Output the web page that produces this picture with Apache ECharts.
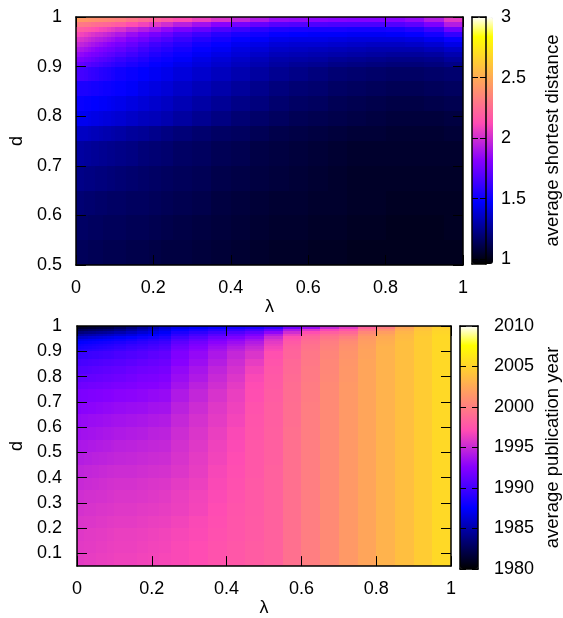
<!DOCTYPE html>
<html><head><meta charset="utf-8">
<script src="https://cdn.jsdelivr.net/npm/echarts@6/dist/echarts.min.js"></script>
<style>html,body{margin:0;padding:0;background:#fff}#c{width:563px;height:618px}</style>
</head><body><div id="c"></div>
<script>
// ---- data ----
const lambdaEdges = [0,0.01,0.02,0.03,0.04,0.05,0.06,0.07,0.08,0.09,0.1,0.13,0.16,0.19,0.22,0.25,0.3,0.35,0.4,0.45,0.5,0.55,0.6,0.65,0.7,0.75,0.8,0.85,0.9,0.95,1];
const dEdgesTop = [0.5,0.55,0.6,0.65,0.7,0.75,0.78,0.81,0.84,0.87,0.9,0.91,0.92,0.93,0.94,0.95,0.96,0.97,0.98,0.99,1];
const dEdgesBottom = [0.05,0.1,0.15,0.2,0.25,0.3,0.35,0.4,0.45,0.5,0.55,0.6,0.65,0.7,0.75,0.78,0.81,0.84,0.87,0.9,0.91,0.92,0.93,0.94,0.95,0.96,0.97,0.98,0.99,1];
const dTicksBottom = [0.1,0.2,0.3,0.4,0.5,0.6,0.7,0.8,0.9,1];
const distTicks = [1,1.5,2,2.5,3];
const yearTicks = [1980,1985,1990,1995,2000,2005,2010];

// average shortest distance, rows from d=0.5 upward, columns along lambdaEdges
const distance = [
[1.14,1.14,1.14,1.13,1.13,1.13,1.13,1.12,1.12,1.12,1.12,1.11,1.11,1.10,1.09,1.09,1.08,1.07,1.06,1.05,1.04,1.04,1.03,1.03,1.02,1.02,1.02,1.02,1.02,1.02],
[1.16,1.16,1.16,1.15,1.15,1.15,1.15,1.14,1.14,1.14,1.14,1.13,1.13,1.12,1.11,1.10,1.09,1.08,1.07,1.06,1.05,1.05,1.04,1.04,1.03,1.03,1.02,1.02,1.02,1.03],
[1.19,1.19,1.18,1.18,1.18,1.17,1.17,1.17,1.16,1.16,1.16,1.15,1.15,1.14,1.13,1.12,1.11,1.09,1.08,1.07,1.06,1.06,1.05,1.05,1.04,1.04,1.03,1.03,1.03,1.03],
[1.23,1.23,1.22,1.22,1.22,1.21,1.21,1.21,1.20,1.20,1.19,1.18,1.17,1.16,1.15,1.14,1.13,1.11,1.10,1.09,1.08,1.07,1.06,1.05,1.04,1.04,1.04,1.04,1.04,1.04],
[1.28,1.28,1.27,1.27,1.26,1.26,1.25,1.25,1.24,1.24,1.23,1.22,1.20,1.19,1.18,1.16,1.15,1.13,1.12,1.10,1.09,1.08,1.07,1.06,1.05,1.05,1.05,1.05,1.05,1.05],
[1.36,1.35,1.35,1.34,1.33,1.33,1.32,1.31,1.31,1.30,1.29,1.27,1.26,1.24,1.22,1.20,1.18,1.16,1.15,1.13,1.11,1.10,1.09,1.08,1.07,1.07,1.06,1.06,1.06,1.07],
[1.45,1.44,1.44,1.43,1.42,1.42,1.41,1.40,1.40,1.39,1.38,1.36,1.34,1.33,1.31,1.28,1.25,1.22,1.19,1.17,1.15,1.13,1.12,1.11,1.10,1.09,1.08,1.08,1.08,1.09],
[1.49,1.49,1.48,1.48,1.47,1.47,1.46,1.46,1.45,1.44,1.43,1.41,1.39,1.37,1.35,1.32,1.29,1.26,1.23,1.21,1.18,1.16,1.15,1.13,1.12,1.11,1.10,1.10,1.11,1.12],
[1.55,1.54,1.54,1.53,1.52,1.52,1.51,1.50,1.50,1.49,1.48,1.46,1.43,1.41,1.39,1.36,1.33,1.30,1.27,1.24,1.21,1.19,1.18,1.16,1.15,1.14,1.13,1.13,1.14,1.15],
[1.65,1.64,1.63,1.61,1.60,1.59,1.57,1.56,1.55,1.53,1.51,1.49,1.47,1.45,1.43,1.40,1.37,1.34,1.31,1.28,1.25,1.23,1.21,1.19,1.18,1.17,1.16,1.16,1.17,1.18],
[1.74,1.72,1.70,1.69,1.67,1.66,1.64,1.62,1.61,1.59,1.57,1.54,1.51,1.48,1.46,1.43,1.40,1.37,1.34,1.31,1.28,1.26,1.25,1.23,1.22,1.21,1.20,1.20,1.21,1.23],
[1.80,1.78,1.76,1.75,1.73,1.71,1.69,1.68,1.66,1.64,1.61,1.58,1.55,1.51,1.49,1.46,1.42,1.39,1.36,1.33,1.30,1.29,1.28,1.26,1.25,1.24,1.23,1.23,1.24,1.27],
[1.86,1.84,1.82,1.80,1.78,1.77,1.75,1.73,1.71,1.70,1.67,1.63,1.59,1.55,1.52,1.49,1.45,1.42,1.39,1.36,1.33,1.32,1.31,1.30,1.29,1.28,1.27,1.27,1.28,1.31],
[1.92,1.90,1.88,1.86,1.84,1.82,1.80,1.78,1.76,1.75,1.72,1.68,1.63,1.59,1.56,1.52,1.48,1.45,1.41,1.39,1.36,1.35,1.34,1.33,1.32,1.31,1.31,1.31,1.33,1.36],
[1.98,1.96,1.94,1.92,1.90,1.88,1.86,1.84,1.82,1.80,1.77,1.73,1.68,1.63,1.60,1.56,1.51,1.48,1.44,1.42,1.39,1.38,1.38,1.37,1.36,1.35,1.35,1.36,1.38,1.42],
[2.04,2.02,2.00,1.98,1.96,1.94,1.93,1.91,1.89,1.87,1.84,1.79,1.75,1.70,1.66,1.61,1.56,1.52,1.48,1.46,1.43,1.42,1.42,1.41,1.40,1.40,1.40,1.41,1.44,1.49],
[2.11,2.09,2.07,2.05,2.03,2.01,2.00,1.98,1.96,1.94,1.91,1.86,1.82,1.77,1.73,1.67,1.62,1.57,1.53,1.51,1.48,1.47,1.46,1.46,1.45,1.45,1.46,1.48,1.52,1.60],
[2.21,2.19,2.17,2.16,2.14,2.12,2.10,2.09,2.07,2.05,2.02,1.97,1.93,1.89,1.84,1.78,1.73,1.67,1.62,1.58,1.55,1.54,1.53,1.53,1.52,1.52,1.53,1.56,1.62,1.75],
[2.31,2.30,2.29,2.28,2.26,2.25,2.24,2.23,2.22,2.20,2.18,2.13,2.09,2.05,2.00,1.94,1.88,1.82,1.77,1.73,1.69,1.68,1.67,1.66,1.66,1.66,1.68,1.71,1.79,1.93],
[2.44,2.43,2.42,2.41,2.40,2.39,2.38,2.37,2.36,2.35,2.33,2.29,2.25,2.22,2.18,2.13,2.08,2.03,1.97,1.92,1.86,1.85,1.83,1.82,1.81,1.81,1.82,1.85,1.93,2.05]
];

// average publication year, rows from d=0.05 upward
const pubYear = [
[1996.1,1996.1,1996.2,1996.2,1996.2,1996.3,1996.3,1996.3,1996.4,1996.4,1996.5,1996.5,1996.6,1996.7,1996.8,1996.9,1997.1,1997.4,1997.7,1998.0,1998.3,1999.2,2000.0,2000.7,2001.6,2002.3,2003.1,2003.8,2004.6,2005.4],
[1996.0,1996.0,1996.1,1996.1,1996.1,1996.2,1996.2,1996.2,1996.3,1996.3,1996.4,1996.4,1996.5,1996.6,1996.7,1996.9,1997.1,1997.4,1997.7,1998.0,1998.3,1999.2,2000.0,2000.7,2001.6,2002.3,2003.1,2003.8,2004.6,2005.4],
[1995.9,1995.9,1996.0,1996.0,1996.0,1996.1,1996.1,1996.1,1996.2,1996.2,1996.3,1996.3,1996.4,1996.5,1996.6,1996.8,1997.0,1997.3,1997.6,1997.9,1998.3,1999.2,2000.0,2000.7,2001.6,2002.3,2003.1,2003.8,2004.6,2005.4],
[1995.7,1995.7,1995.8,1995.8,1995.8,1995.9,1995.9,1995.9,1996.0,1996.0,1996.1,1996.1,1996.2,1996.3,1996.4,1996.6,1996.9,1997.2,1997.6,1997.9,1998.3,1999.2,2000.0,2000.7,2001.6,2002.3,2003.1,2003.8,2004.6,2005.4],
[1995.5,1995.5,1995.6,1995.6,1995.6,1995.7,1995.7,1995.7,1995.8,1995.8,1995.9,1995.9,1996.0,1996.1,1996.2,1996.4,1996.7,1997.1,1997.5,1997.8,1998.3,1999.2,2000.0,2000.7,2001.6,2002.3,2003.1,2003.8,2004.6,2005.4],
[1995.3,1995.3,1995.4,1995.4,1995.4,1995.5,1995.5,1995.5,1995.6,1995.6,1995.7,1995.7,1995.8,1995.9,1996.0,1996.3,1996.6,1997.0,1997.4,1997.8,1998.3,1999.2,2000.0,2000.7,2001.6,2002.3,2003.1,2003.8,2004.6,2005.4],
[1995.0,1995.0,1995.1,1995.1,1995.2,1995.2,1995.3,1995.3,1995.4,1995.4,1995.5,1995.5,1995.6,1995.7,1995.8,1996.1,1996.4,1996.9,1997.3,1997.8,1998.3,1999.2,2000.0,2000.7,2001.6,2002.3,2003.1,2003.8,2004.6,2005.4],
[1994.7,1994.7,1994.8,1994.8,1994.9,1994.9,1995.0,1995.0,1995.1,1995.1,1995.2,1995.2,1995.3,1995.4,1995.5,1995.8,1996.2,1996.8,1997.2,1997.7,1998.3,1999.2,2000.0,2000.7,2001.6,2002.3,2003.1,2003.8,2004.6,2005.4],
[1994.3,1994.3,1994.4,1994.4,1994.5,1994.5,1994.6,1994.6,1994.7,1994.7,1994.8,1994.9,1995.0,1995.1,1995.2,1995.6,1996.1,1996.6,1997.1,1997.7,1998.2,1999.2,2000.0,2000.7,2001.6,2002.3,2003.1,2003.8,2004.6,2005.4],
[1993.9,1994.0,1994.0,1994.1,1994.1,1994.2,1994.2,1994.3,1994.3,1994.4,1994.5,1994.6,1994.7,1994.8,1994.9,1995.4,1995.9,1996.5,1997.0,1997.7,1998.2,1999.2,2000.0,2000.7,2001.6,2002.3,2003.1,2003.8,2004.6,2005.4],
[1993.5,1993.6,1993.6,1993.7,1993.7,1993.8,1993.8,1993.9,1993.9,1994.0,1994.1,1994.2,1994.3,1994.5,1994.6,1995.2,1995.7,1996.3,1996.9,1997.6,1998.2,1999.2,2000.0,2000.7,2001.6,2002.3,2003.1,2003.8,2004.6,2005.4],
[1993.1,1993.2,1993.2,1993.3,1993.3,1993.4,1993.4,1993.5,1993.5,1993.6,1993.7,1993.8,1993.9,1994.1,1994.2,1994.9,1995.5,1996.1,1996.7,1997.5,1998.1,1999.1,2000.0,2000.7,2001.6,2002.3,2003.1,2003.8,2004.6,2005.4],
[1992.6,1992.7,1992.7,1992.8,1992.8,1992.9,1992.9,1993.0,1993.0,1993.1,1993.2,1993.3,1993.4,1993.6,1993.7,1994.5,1995.2,1995.9,1996.5,1997.4,1998.1,1999.1,2000.0,2000.7,2001.6,2002.3,2003.1,2003.8,2004.6,2005.4],
[1992.1,1992.2,1992.2,1992.3,1992.3,1992.4,1992.4,1992.5,1992.5,1992.6,1992.7,1992.8,1992.9,1993.1,1993.2,1994.1,1994.8,1995.6,1996.3,1997.2,1998.0,1999.0,1999.9,2000.7,2001.6,2002.3,2003.1,2003.8,2004.6,2005.4],
[1991.6,1991.7,1991.7,1991.8,1991.8,1991.9,1991.9,1992.0,1992.0,1992.1,1992.2,1992.3,1992.5,1992.6,1992.8,1993.7,1994.5,1995.3,1996.1,1997.1,1997.9,1999.0,1999.9,2000.7,2001.6,2002.3,2003.1,2003.8,2004.6,2005.4],
[1991.1,1991.2,1991.2,1991.3,1991.3,1991.4,1991.4,1991.5,1991.5,1991.6,1991.7,1991.9,1992.1,1992.2,1992.4,1993.3,1994.1,1995.0,1995.8,1996.9,1997.8,1998.9,1999.8,2000.6,2001.5,2002.3,2003.1,2003.8,2004.6,2005.4],
[1990.6,1990.7,1990.7,1990.8,1990.9,1990.9,1991.0,1991.1,1991.1,1991.2,1991.3,1991.5,1991.7,1991.8,1992.0,1993.0,1993.8,1994.7,1995.5,1996.6,1997.7,1998.8,1999.8,2000.5,2001.5,2002.3,2003.1,2003.8,2004.6,2005.4],
[1990.1,1990.2,1990.2,1990.3,1990.4,1990.4,1990.5,1990.6,1990.6,1990.7,1990.8,1991.0,1991.2,1991.4,1991.6,1992.6,1993.4,1994.3,1995.2,1996.2,1997.5,1998.7,1999.7,2000.5,2001.4,2002.3,2003.1,2003.8,2004.6,2005.4],
[1989.5,1989.6,1989.6,1989.7,1989.8,1989.8,1989.9,1990.0,1990.0,1990.1,1990.3,1990.5,1990.7,1991.0,1991.2,1992.3,1993.1,1994.0,1994.9,1995.7,1997.3,1998.5,1999.6,2000.4,2001.3,2002.2,2003.1,2003.8,2004.6,2005.4],
[1988.7,1988.8,1988.9,1989.0,1989.1,1989.2,1989.3,1989.4,1989.5,1989.6,1989.8,1990.0,1990.3,1990.5,1990.8,1992.0,1992.8,1993.7,1994.5,1995.3,1996.9,1998.4,1999.5,2000.3,2001.2,2002.2,2003.1,2003.8,2004.6,2005.4],
[1988.3,1988.4,1988.5,1988.6,1988.7,1988.8,1988.9,1989.0,1989.1,1989.2,1989.4,1989.7,1989.9,1990.2,1990.5,1991.7,1992.5,1993.4,1994.2,1995.0,1996.7,1998.3,1999.4,2000.2,2001.1,2002.1,2003.1,2003.8,2004.6,2005.4],
[1988.0,1988.1,1988.2,1988.3,1988.4,1988.5,1988.6,1988.7,1988.8,1988.9,1989.1,1989.4,1989.6,1989.9,1990.2,1991.4,1992.2,1993.1,1993.8,1994.6,1996.4,1998.1,1999.3,2000.1,2001.0,2002.0,2003.0,2003.8,2004.6,2005.4],
[1987.5,1987.6,1987.7,1987.8,1987.9,1988.0,1988.1,1988.2,1988.3,1988.4,1988.6,1988.9,1989.2,1989.5,1989.8,1991.0,1991.8,1992.7,1993.4,1994.2,1996.1,1997.9,1999.1,2000.0,2000.8,2001.9,2002.9,2003.8,2004.6,2005.4],
[1986.9,1987.0,1987.1,1987.2,1987.3,1987.4,1987.5,1987.6,1987.7,1987.8,1988.0,1988.3,1988.7,1989.0,1989.3,1990.5,1991.3,1992.2,1992.9,1993.7,1995.7,1997.6,1998.9,1999.8,2000.5,2001.8,2002.8,2003.7,2004.6,2005.4],
[1985.9,1986.0,1986.1,1986.3,1986.4,1986.5,1986.6,1986.8,1986.9,1987.0,1987.3,1987.6,1988.0,1988.3,1988.7,1989.9,1990.7,1991.6,1992.2,1993.0,1995.1,1997.2,1998.6,1999.5,2000.1,2001.6,2002.7,2003.6,2004.6,2005.4],
[1984.7,1984.8,1985.0,1985.1,1985.2,1985.4,1985.5,1985.6,1985.8,1985.9,1986.2,1986.6,1987.1,1987.5,1988.0,1989.2,1990.0,1990.8,1991.4,1992.2,1994.2,1996.4,1998.1,1999.0,1999.5,2001.2,2002.4,2003.5,2004.5,2005.3],
[1983.5,1983.6,1983.8,1983.9,1984.0,1984.2,1984.3,1984.4,1984.6,1984.7,1985.1,1985.6,1986.2,1986.7,1987.3,1988.5,1989.2,1989.9,1990.5,1991.2,1992.9,1995.3,1997.2,1998.2,1998.7,2000.6,2001.9,2003.3,2004.4,2005.2],
[1982.3,1982.4,1982.5,1982.7,1982.8,1982.9,1983.0,1983.2,1983.3,1983.4,1983.9,1984.6,1985.3,1986.0,1986.7,1987.7,1988.3,1988.9,1989.4,1990.0,1991.3,1994.0,1995.8,1996.8,1997.5,1999.6,2001.1,2002.9,2004.2,2005.1],
[1981.2,1981.3,1981.4,1981.5,1981.6,1981.8,1981.9,1982.0,1982.1,1982.2,1982.8,1983.6,1984.4,1985.2,1986.1,1986.8,1987.3,1987.8,1988.3,1988.6,1989.4,1991.8,1993.4,1995.0,1996.0,1998.4,2000.0,2002.3,2003.9,2004.9]
];

// ---- palette (gnuplot rgbformulae 30,31,32) ----
function clamp(v){ return Math.max(0, Math.min(1, v)); }
function pal(x){
  const r = clamp(x/0.32 - 0.78125);
  const g = clamp(2*x - 0.84);
  let b;
  if (x < 0.25) b = 4*x; else if (x < 0.42) b = 1; else if (x < 0.92) b = -2*x + 1.84; else b = x/0.08 - 11.5;
  b = clamp(b);
  const h = v => Math.round(v*255).toString(16).padStart(2,'0');
  return '#' + h(r) + h(g) + h(b);
}
const stops = [];
for (let i = 0; i <= 100; i++) stops.push(pal(i/100));

function cells(rows, dEdges){
  const out = [];
  rows.forEach((row, r) => row.forEach((v, c) => {
    out.push([lambdaEdges[c], lambdaEdges[c+1], dEdges[r], dEdges[r+1], v]);
  }));
  return out;
}
function renderCell(params, api){
  const a = api.coord([api.value(0), api.value(3)]);
  const b = api.coord([api.value(1), api.value(2)]);
  const x0 = Math.round(a[0]), x1 = Math.round(b[0]);
  const y0 = Math.round(a[1]), y1 = Math.round(b[1]);
  return { type: 'rect', shape: { x: x0, y: y0, width: x1 - x0, height: y1 - y0 },
           style: { fill: api.visual('color') } };
}

const FONT = 'Liberation Sans, Arial, sans-serif';
const txt = { fontFamily: FONT, fontSize: 18, color: '#000' };
const ttl = { fontFamily: FONT, fontSize: 18.5, color: '#000' };
const axLine = { show: true, onZero: false, lineStyle: { color: '#000', width: 1.5 } };
const tick = (len, vals) => { const t = { show: true, inside: true, length: len, lineStyle: { color: '#000', width: 1 } }; if (vals) t.customValues = vals; return t; };
const noLab = { show: false };
const noSplit = { show: false };
const plain = v => String(v);

function plotX(grid, pos, withLabel){
  const o = { gridIndex: grid, type: 'value', position: pos, min: 0, max: 1, interval: 0.2,
    axisLine: axLine, axisTick: tick(10), splitLine: noSplit, z: 10,
    axisLabel: withLabel ? Object.assign({ margin: 14 }, txt) : noLab };
  if (withLabel) { o.name = 'λ'; o.nameLocation = 'middle'; o.nameGap = 32; o.nameTextStyle = txt; }
  return o;
}
function frameX(grid, pos){
  return { gridIndex: grid, type: 'value', position: pos, min: 0, max: 1,
    axisLine: axLine, axisTick: { show: false }, axisLabel: noLab, splitLine: noSplit, z: 10 };
}

const option = {
  animation: false,
  backgroundColor: '#fff',
  grid: [
    { left: 74, top: 17, width: 389, height: 248 },
    { left: 472, top: 17, width: 21, height: 247 },
    { left: 68, top: 326, width: 383, height: 242 },
    { left: 460, top: 326, width: 18, height: 243 }
  ],
  xAxis: [
    plotX(0, 'bottom', true), plotX(0, 'top', false),
    frameX(1, 'bottom'), frameX(1, 'top'),
    plotX(2, 'bottom', true), plotX(2, 'top', false),
    frameX(3, 'bottom'), frameX(3, 'top')
  ],
  yAxis: [
    { gridIndex: 0, type: 'value', position: 'left', min: 0.5, max: 1, interval: 0.1,
      axisLine: axLine, axisTick: tick(10), splitLine: noSplit, z: 10,
      axisLabel: Object.assign({ margin: 14 }, txt),
      name: 'd', nameLocation: 'middle', nameGap: 47, nameRotate: 90, nameTextStyle: txt },
    { gridIndex: 0, type: 'value', position: 'right', min: 0.5, max: 1, interval: 0.1,
      axisLine: axLine, axisTick: tick(10), splitLine: noSplit, axisLabel: noLab, z: 10 },
    { gridIndex: 1, type: 'value', position: 'right', min: 0.96, max: 3,
      axisLine: axLine, axisTick: tick(6, distTicks), splitLine: noSplit, z: 10,
      axisLabel: Object.assign({ margin: 15, customValues: distTicks, formatter: plain }, txt),
      name: 'average shortest distance', nameLocation: 'middle', nameGap: 57, nameRotate: 90, nameTextStyle: ttl },
    { gridIndex: 1, type: 'value', position: 'left', min: 0.96, max: 3,
      axisLine: axLine, axisTick: tick(6, distTicks), splitLine: noSplit, axisLabel: noLab, z: 10 },
    { gridIndex: 2, type: 'value', position: 'left', min: 0.05, max: 1,
      axisLine: axLine, axisTick: tick(10, dTicksBottom), splitLine: noSplit, z: 10,
      axisLabel: Object.assign({ margin: 15, customValues: dTicksBottom }, txt),
      name: 'd', nameLocation: 'middle', nameGap: 51, nameRotate: 90, nameTextStyle: txt },
    { gridIndex: 2, type: 'value', position: 'right', min: 0.05, max: 1,
      axisLine: axLine, axisTick: tick(10, dTicksBottom), splitLine: noSplit, axisLabel: noLab, z: 10 },
    { gridIndex: 3, type: 'value', position: 'right', min: 1980, max: 2010,
      axisLine: axLine, axisTick: tick(6, yearTicks), splitLine: noSplit, z: 10,
      axisLabel: Object.assign({ margin: 16, customValues: yearTicks, formatter: plain }, txt),
      name: 'average publication year', nameLocation: 'middle', nameGap: 65, nameRotate: 90, nameTextStyle: ttl },
    { gridIndex: 3, type: 'value', position: 'left', min: 1980, max: 2010,
      axisLine: axLine, axisTick: tick(6, yearTicks), splitLine: noSplit, axisLabel: noLab, z: 10 }
  ],
  visualMap: [
    { type: 'continuous', seriesIndex: 0, dimension: 4, min: 0.96, max: 3, inRange: { color: stops },
      calculable: false, hoverLink: false, orient: 'vertical', left: 472, top: 17,
      itemWidth: 21, itemHeight: 247, padding: 0, z: 2 },
    { type: 'continuous', seriesIndex: 1, dimension: 4, min: 1980, max: 2010, inRange: { color: stops },
      calculable: false, hoverLink: false, orient: 'vertical', left: 460, top: 326,
      itemWidth: 18, itemHeight: 243, padding: 0, z: 2 }
  ],
  series: [
    { type: 'custom', xAxisIndex: 0, yAxisIndex: 0, renderItem: renderCell,
      encode: { x: [0, 1], y: [2, 3] }, data: cells(distance, dEdgesTop), z: 1 },
    { type: 'custom', xAxisIndex: 4, yAxisIndex: 4, renderItem: renderCell,
      encode: { x: [0, 1], y: [2, 3] }, data: cells(pubYear, dEdgesBottom), z: 1 }
  ]
};
const chart = echarts.init(document.getElementById('c'), null, { renderer: 'canvas' });
chart.setOption(option);
</script>
</body></html>
